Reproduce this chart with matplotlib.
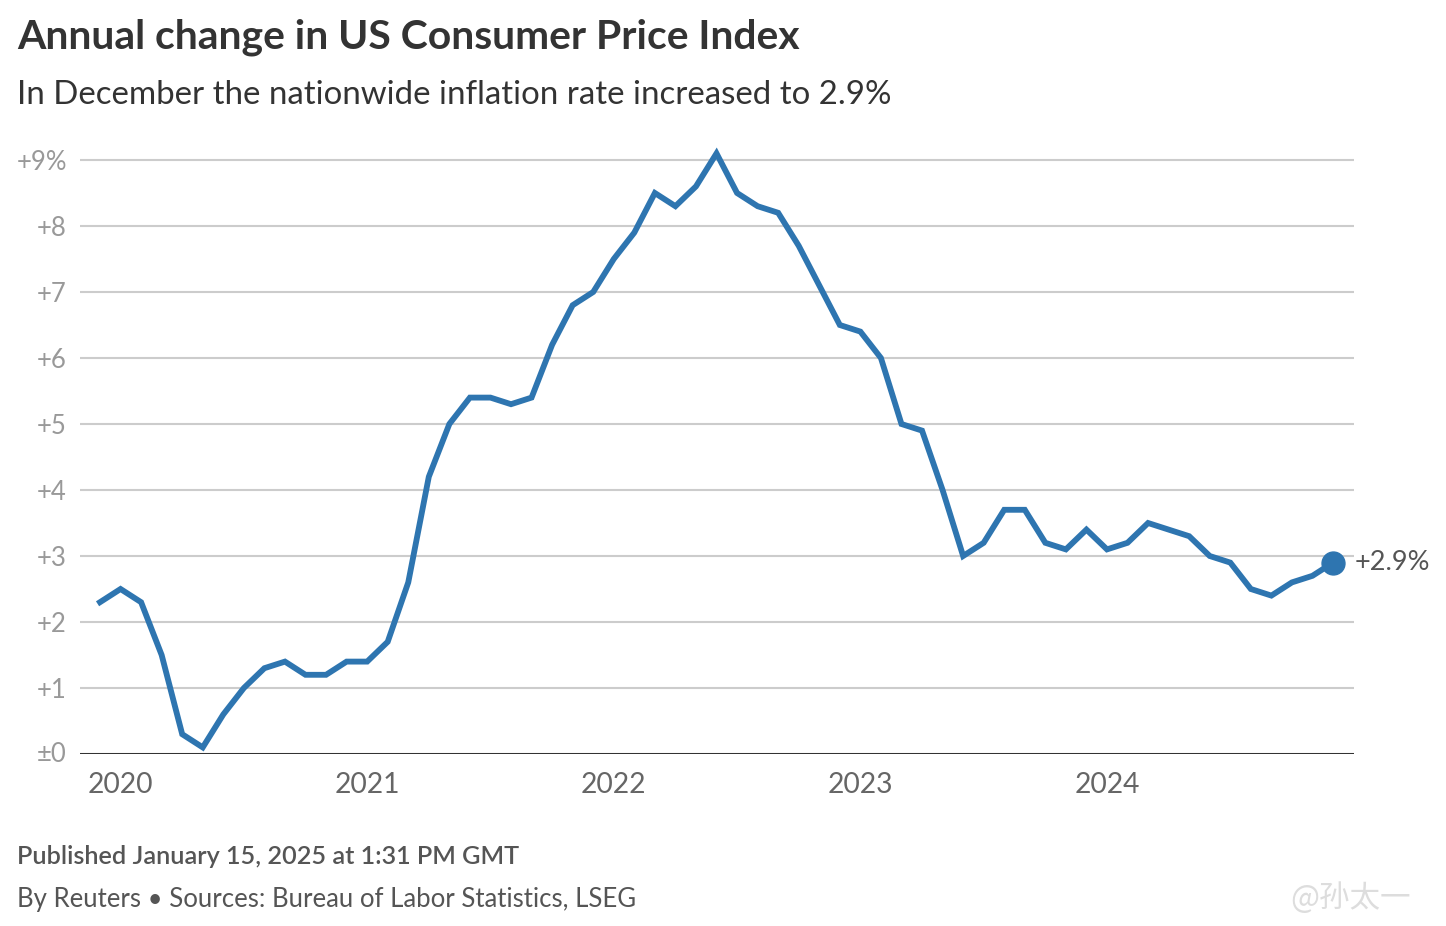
import matplotlib.pyplot as plt

# monthly CPI YoY change, Dec 2019 .. Dec 2024
cpi = [2.3,
       2.5, 2.3, 1.5, 0.3, 0.1, 0.6, 1.0, 1.3, 1.4, 1.2, 1.2, 1.4,
       1.4, 1.7, 2.6, 4.2, 5.0, 5.4, 5.4, 5.3, 5.4, 6.2, 6.8, 7.0,
       7.5, 7.9, 8.5, 8.3, 8.6, 9.1, 8.5, 8.3, 8.2, 7.7, 7.1, 6.5,
       6.4, 6.0, 5.0, 4.9, 4.0, 3.0, 3.2, 3.7, 3.7, 3.2, 3.1, 3.4,
       3.1, 3.2, 3.5, 3.4, 3.3, 3.0, 2.9, 2.5, 2.4, 2.6, 2.7, 2.9]
year_labels = ['2020', '2021', '2022', '2023', '2024']
year_pos = [1, 13, 25, 37, 49]  # January of each year
y_ticks = [0, 1, 2, 3, 4, 5, 6, 7, 8, 9]
y_labels = ['±0', '+1', '+2', '+3', '+4', '+5', '+6', '+7', '+8', '+9%']

plt.rcParams['font.family'] = ['Lato', 'DejaVu Sans']
blue = '#2e75b0'

fig = plt.figure(figsize=(14.46, 9.26), dpi=100)
ax = fig.add_axes([80/1446, 1-754/926, (1354-80)/1446, (754-143.5)/926])

x = list(range(len(cpi)))
ax.plot(x, cpi, color=blue, lw=4.2, solid_joinstyle='miter', zorder=3)
ax.plot([x[-1]], [cpi[-1]], 'o', color=blue, ms=16.5, zorder=4)
ax.text(x[-1] + 1.05, cpi[-1], '+%.1f%%' % cpi[-1], va='center', ha='left',
        fontsize=19.5, color='#555555')

ax.set_xlim(-0.973, 61.02)
ax.set_ylim(0, 9.25)
ax.set_yticks(y_ticks[1:])
ax.set_yticklabels(y_labels[1:])
ax.yaxis.grid(True, color='#cccccc', lw=1.5)
ax.axhline(0, color='#333333', lw=2.2, zorder=2)
ax.text(-0.973 - 13/20.55, 0, y_labels[0], ha='right', va='center',
        fontsize=18.5, color='#999999')
ax.set_xticks(year_pos)
ax.set_xticklabels(year_labels)
ax.tick_params(axis='y', length=0, pad=9.4, labelsize=18.5, labelcolor='#999999')
ax.tick_params(axis='x', length=0, pad=13, labelsize=20.3, labelcolor='#666666')
for s in ax.spines.values():
    s.set_visible(False)

fig.text(17/1446, 1-37/926, 'Annual change in US Consumer Price Index', fontsize=29.4,
         fontweight='bold', color='#333333', va='center')
fig.text(17/1446, 1-95/926, 'In December the nationwide inflation rate increased to 2.9%',
         fontsize=23.8, color='#333333', va='center')
fig.text(17/1446, 1-857/926, 'Published January 15, 2025 at 1:31 PM GMT', fontsize=18.2,
         fontweight='semibold', color='#555555', va='center')
fig.text(17/1446, 1-900/926, 'By Reuters • Sources: Bureau of Labor Statistics, LSEG',
         fontsize=18.5, color='#555555', va='center')
fig.text(1290/1446, 1-898/926, '@孙太一', fontsize=22, color='#dddddd', va='center',
         ha='left', family=['Noto Sans CJK SC', 'DejaVu Sans'])

fig.savefig('out.png', dpi=100)
